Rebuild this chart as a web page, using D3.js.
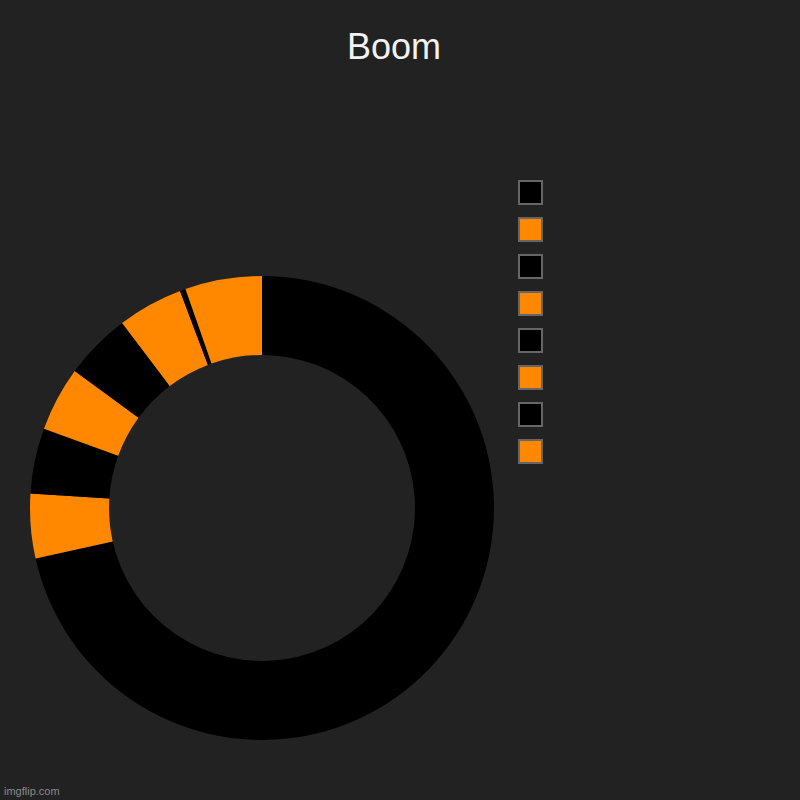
<!DOCTYPE html>
<html>
<head>
<meta charset="utf-8">
<script src="https://cdn.jsdelivr.net/npm/d3@7"></script>
<style>
  html, body { margin: 0; padding: 0; background: #222222; }
  svg { display: block; }
</style>
</head>
<body>
<svg id="chart" width="800" height="800"></svg>
<script>
// slice values, in drawing order (clockwise from 12 o'clock)
const labels = ['', '', '', '', '', '', '', ''];
const values = [71.5, 4.5, 4.55, 4.5, 4.65, 4.55, 0.4, 5.35];
const colors = ['#000000', '#ff8800', '#000000', '#ff8800', '#000000', '#ff8800', '#000000', '#ff8800'];

const title = 'Boom';

const width = 800;
const height = 800;
const cx = 262, cy = 508;
const outerR = 232, innerR = 153;

let svg = d3.select('#chart');

svg.append('rect')
    .attr('width', width)
    .attr('height', height)
    .attr('fill', '#222222');

// title
svg.append('text')
    .attr('x', 394)
    .attr('y', 59)
    .attr('text-anchor', 'middle')
    .attr('font-family', 'Liberation Sans, Arial, sans-serif')
    .attr('font-size', 36)
    .attr('fill', '#f2f2f2')
    .text(title);

// donut
let pie = d3.pie().sort(null).value(d => d);
let arc = d3.arc().innerRadius(innerR).outerRadius(outerR);

svg.append('g')
    .attr('transform', `translate(${cx},${cy})`)
    .selectAll('path')
    .data(pie(values))
    .enter()
    .append('path')
    .attr('d', arc)
    .attr('fill', (d, i) => colors[i]);

// legend
let legendY = d3.scaleBand()
    .domain(d3.range(values.length))
    .range([180, 180 + 37 * values.length])
    .paddingInner(0);

let legend = svg.append('g')
    .selectAll('g')
    .data(labels)
    .enter()
    .append('g')
    .attr('transform', (d, i) => `translate(519,${legendY(i) + 1})`);

legend.append('rect')
    .attr('width', 23)
    .attr('height', 23)
    .attr('fill', (d, i) => colors[i])
    .attr('stroke', '#666666')
    .attr('stroke-width', 2);

legend.append('text')
    .attr('x', 32)
    .attr('y', 17)
    .attr('font-family', 'Liberation Sans, Arial, sans-serif')
    .attr('font-size', 14)
    .attr('fill', '#eeeeee')
    .text(d => d);

// watermark
svg.append('text')
    .attr('x', 4)
    .attr('y', 795)
    .attr('font-family', 'Liberation Sans, Arial, sans-serif')
    .attr('font-size', 11)
    .attr('fill', '#8a8a8a')
    .text('imgflip.com');
</script>
</body>
</html>
